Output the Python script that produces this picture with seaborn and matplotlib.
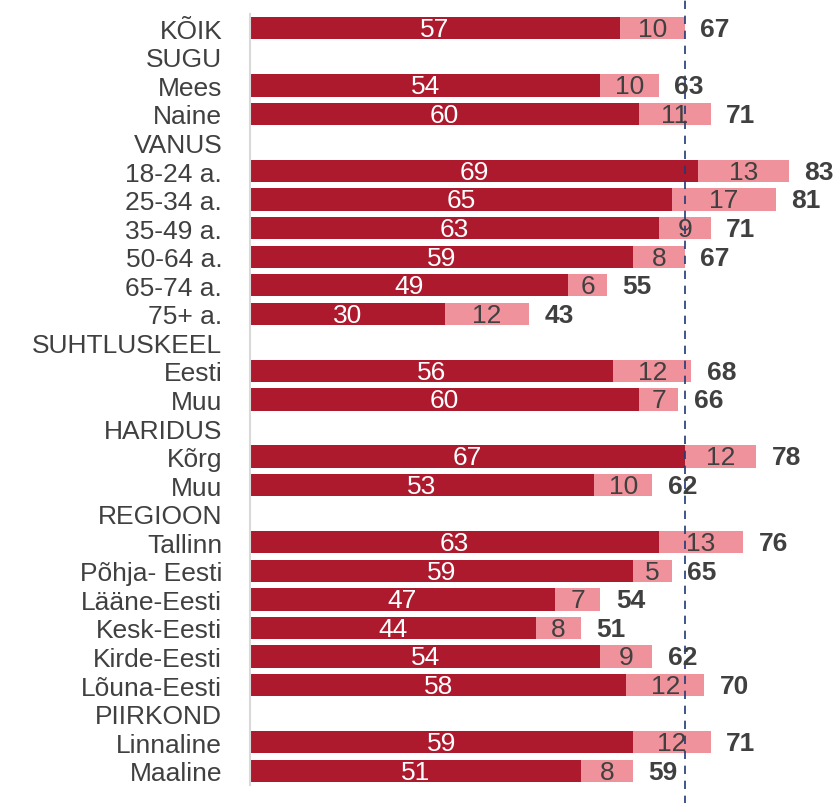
import numpy as np
import pandas as pd
import matplotlib
matplotlib.use("Agg")
import matplotlib.pyplot as plt
import seaborn as sns

labels = ["KÕIK", "SUGU", "Mees", "Naine", "VANUS", "18-24 a.", "25-34 a.", "35-49 a.",
          "50-64 a.", "65-74 a.", "75+ a.", "SUHTLUSKEEL", "Eesti", "Muu", "HARIDUS",
          "Kõrg", "Muu", "REGIOON", "Tallinn", "Põhja- Eesti", "Lääne-Eesti", "Kesk-Eesti",
          "Kirde-Eesti", "Lõuna-Eesti", "PIIRKOND", "Linnaline", "Maaline"]
# None = group header row (no bar)
part_a = [57, None, 54, 60, None, 69, 65, 63, 59, 49, 30, None, 56, 60, None,
          67, 53, None, 63, 59, 47, 44, 54, 58, None, 59, 51]
part_b = [10, None, 10, 11, None, 13, 17, 9, 8, 6, 12, None, 12, 7, None,
          12, 10, None, 13, 5, 7, 8, 9, 12, None, 12, 8]
totals = [67, None, 63, 71, None, 83, 81, 71, 67, 55, 43, None, 68, 66, None,
          78, 62, None, 76, 65, 54, 51, 62, 70, None, 71, 59]
reference_line = 67

dark = "#AE1A2D"
pink = "#F0929C"
grey = "#404040"

df = pd.DataFrame({"pos": np.arange(len(labels)), "a": part_a, "b": part_b, "total": totals})
bars = df.dropna()

sns.set_style("white")
plt.rcParams["font.family"] = ["Liberation Sans", "DejaVu Sans"]

fig = plt.figure(figsize=(8.38, 8.04), dpi=100)
ax = fig.add_axes([250 / 838, 18 / 804, 588 / 838, 771 / 804])

sns.barplot(data=bars, x="total", y="pos", orient="h", native_scale=True,
            color=pink, width=0.78, saturation=1, ax=ax, linewidth=0)
sns.barplot(data=bars, x="a", y="pos", orient="h", native_scale=True,
            color=dark, width=0.78, saturation=1, ax=ax, linewidth=0)

fs = 19
for _, r in bars.iterrows():
    ax.text(r["a"] / 2, r["pos"] + 0.03, f"{int(r['a'])}", color="white", fontsize=fs,
            ha="center", va="center")
    ax.text((r["a"] + r["total"]) / 2, r["pos"] + 0.03, f"{int(r['b'])}", color=grey, fontsize=fs,
            ha="center", va="center")
    ax.text(r["total"] + 2.4, r["pos"] + 0.03, f"{int(r['total'])}", color=grey, fontsize=fs,
            fontweight="bold", ha="left", va="center")

ax.axvline(reference_line, ymin=-0.03, ymax=1.03, color="#1F3A78", linestyle=(0, (5, 4)),
           linewidth=1.2, clip_on=False)

ax.set_xlim(0, 90.6)
ax.set_ylim(len(labels) - 0.5, -0.5)
ax.set_yticks(np.arange(len(labels)))
ax.set_yticklabels(labels, fontsize=fs, color=grey)
ax.tick_params(axis="y", length=0, pad=20)
ax.set_xticks([])
ax.set_xlabel("")
ax.set_ylabel("")
for s in ["top", "right", "bottom"]:
    ax.spines[s].set_visible(False)
ax.spines["left"].set_color("#D9D9D9")
ax.spines["left"].set_linewidth(1.5)

fig.savefig("out.png", dpi=100)
